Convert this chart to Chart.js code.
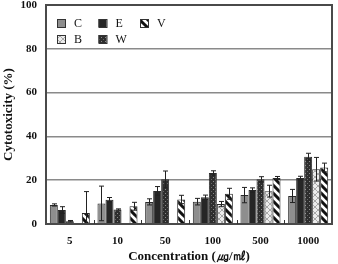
<!DOCTYPE html>
<html>
<head>
<meta charset="utf-8">
<script src="https://cdn.jsdelivr.net/npm/chart.js@4.4.0/dist/chart.umd.min.js"></script>
<style>
  html, body { margin: 0; padding: 0; background: #fff; }
  #wrap { width: 338px; height: 264px; }
</style>
</head>
<body>
<div id="wrap"><canvas id="cyto" width="338" height="264"></canvas></div>
<script>
// concentrations (x categories)
var concLabels = ['5', '10', '50', '100', '500', '1000'];
var yTicks = [0, 20, 40, 60, 80, 100];

// series values (%) and error (+/-)
var seriesNames = ['C', 'E', 'W', 'B', 'V'];
var valC = [8.7, 9.4, 10.1, 10.2, 13.2, 12.8];
var errC = [0.5, 7.9, 1.4, 1.5, 3.5, 3.0];
var valE = [6.4, 11.1, 15.1, 12.2, 15.5, 21.0];
var errE = [1.5, 1.0, 2.0, 1.0, 1.0, 0.8];
var valW = [1.3, 6.6, 20.4, 23.3, 20.4, 30.7];
var errW = [0.3, 0.3, 3.8, 1.0, 1.2, 1.6];
var valB = [0, 0, 0, 9.1, 15.0, 25.0];
var errB = [0, 0, 0, 1.2, 2.7, 5.4];
var valV = [5.0, 8.1, 11.2, 13.8, 21.0, 25.8];
var errV = [9.8, 1.8, 1.9, 2.5, 0.7, 2.0];

// legend placement order (column-major, 2 rows)
var legendOrder = ['C', 'B', 'E', 'W', 'V'];

var serif = "'Liberation Serif', 'DejaVu Serif', serif";

//パターンを作る
function tile(w, h, draw) {
    var c = document.createElement('canvas');
    c.width = w; c.height = h;
    var g = c.getContext('2d');
    draw(g);
    return g.createPattern(c, 'repeat');
}

var fillC = '#8e8e8e';
var fillE = '#262626';
var fillW = tile(4, 4, function (g) {
    g.fillStyle = '#2e2e2e'; g.fillRect(0, 0, 4, 4);
    g.fillStyle = '#8a8a8a'; g.fillRect(1, 1, 1, 1);
    g.fillStyle = '#666'; g.fillRect(3, 3, 1, 1);
});
var fillB = tile(6, 6, function (g) {
    g.fillStyle = '#ececec'; g.fillRect(0, 0, 6, 6);
    g.strokeStyle = '#a8a8a8'; g.lineWidth = 1;
    g.beginPath();
    g.moveTo(0, 0); g.lineTo(6, 6);
    g.moveTo(6, 0); g.lineTo(0, 6);
    g.stroke();
});
var fillV = tile(8, 8, function (g) {
    g.fillStyle = '#fff'; g.fillRect(0, 0, 8, 8);
    g.strokeStyle = '#111'; g.lineWidth = 3;
    g.beginPath();
    for (var k = -8; k <= 8; k += 8) {
        g.moveTo(k - 1, -1); g.lineTo(k + 9, 9);
    }
    g.stroke();
});

function makeSet(label, data, errors, fill) {
    return {
        label: label,
        data: data,
        errors: errors,
        backgroundColor: fill,
        borderColor: '#2a2a2a',
        borderWidth: 1,
        categoryPercentage: 0.84,
        barPercentage: 1.0
    };
}

var datasets = [
    makeSet('C', valC, errC, fillC),
    makeSet('E', valE, errE, fillE),
    makeSet('W', valW, errW, fillW),
    makeSet('B', valB, errB, fillB),
    makeSet('V', valV, errV, fillV)
];

//エラーバー
var errorBars = {
    id: 'errorBars',
    afterDatasetsDraw: function (chart) {
        var ctx = chart.ctx;
        var ys = chart.scales.y;
        ctx.save();
        ctx.strokeStyle = '#222';
        ctx.lineWidth = 1;
        chart.data.datasets.forEach(function (ds, di) {
            var meta = chart.getDatasetMeta(di);
            meta.data.forEach(function (bar, i) {
                var e = ds.errors[i];
                if (!e) return;
                var v = ds.data[i];
                var yt = ys.getPixelForValue(v + e);
                var yb = ys.getPixelForValue(Math.max(0, v - e));
                var x = Math.round(bar.x) + 0.5;
                ctx.beginPath();
                ctx.moveTo(x, yt); ctx.lineTo(x, yb);
                ctx.moveTo(x - 2.5, yt); ctx.lineTo(x + 2.5, yt);
                ctx.moveTo(x - 2.5, yb); ctx.lineTo(x + 2.5, yb);
                ctx.stroke();
            });
        });
        ctx.restore();
    }
};

//枠と内向きの目盛り
var frame = {
    id: 'frame',
    afterDraw: function (chart) {
        var ctx = chart.ctx;
        var a = chart.chartArea;
        var xs = chart.scales.x;
        ctx.save();
        ctx.strokeStyle = '#4a4a4a';
        ctx.lineWidth = 2;
        ctx.strokeRect(a.left, a.top, a.right - a.left, a.bottom - a.top);
        var half = (xs.getPixelForValue(1) - xs.getPixelForValue(0)) / 2;
        ctx.lineWidth = 1;
        ctx.strokeStyle = '#333';
        ctx.beginPath();
        for (var i = 1; i < concLabels.length; i++) {
            var px = Math.round(xs.getPixelForValue(i) - half) + 0.5;
            ctx.moveTo(px, a.bottom); ctx.lineTo(px, a.bottom - 4);
        }
        ctx.stroke();
        ctx.restore();
    }
};

//凡例（グラフ内）
var insideLegend = {
    id: 'insideLegend',
    afterDraw: function (chart) {
        var ctx = chart.ctx;
        var a = chart.chartArea;
        ctx.save();
        ctx.font = '12px ' + serif;
        ctx.textBaseline = 'middle';
        legendOrder.forEach(function (name, k) {
            var col = Math.floor(k / 2), row = k % 2;
            var di = seriesNames.indexOf(name);
            var ds = chart.data.datasets[di];
            var bx = a.left + 11 + col * 41.5;
            var by = a.top + 14 + row * 16;
            ctx.fillStyle = ds.backgroundColor;
            ctx.fillRect(bx, by, 8, 8);
            ctx.strokeStyle = '#333';
            ctx.lineWidth = 1;
            ctx.strokeRect(bx + 0.5, by + 0.5, 8, 8);
            ctx.fillStyle = '#111';
            ctx.fillText(name, bx + 17, by + 5);
        });
        ctx.restore();
    }
};

new Chart(document.getElementById('cyto'), {
    type: 'bar',
    data: { labels: concLabels, datasets: datasets },
    plugins: [errorBars, frame, insideLegend],
    options: {
        responsive: false,
        animation: false,
        layout: { padding: { left: 0, right: 6, top: 5, bottom: 0 } },
        plugins: {
            legend: { display: false },
            tooltip: { enabled: false }
        },
        scales: {
            x: {
                grid: { display: false, drawTicks: false },
                border: { display: false },
                ticks: {
                    color: '#111',
                    padding: 11,
                    font: { family: serif, size: 11, weight: 'bold' }
                },
                title: {
                    display: true,
                    text: 'Concentration (㎍/㎖)',
                    color: '#111',
                    padding: { top: 0, bottom: 0 },
                    font: { family: serif, size: 13, weight: 'bold' }
                },
                afterFit: function (s) {
                    s.height = 40;
                    s.paddingLeft = 0; s.paddingRight = 0;
                }
            },
            y: {
                min: 0,
                max: 100,
                afterBuildTicks: function (s) {
                    s.ticks = yTicks.map(function (v) { return { value: v }; });
                },
                grid: { color: '#8a8a8a', lineWidth: 1.5, drawTicks: false },
                border: { display: false },
                ticks: {
                    color: '#111',
                    padding: 9,
                    font: { family: serif, size: 11, weight: 'bold' }
                },
                title: {
                    display: true,
                    text: 'Cytotoxicity (%)',
                    color: '#111',
                    padding: { top: 1, bottom: 0 },
                    font: { family: serif, size: 13, weight: 'bold' }
                },
                afterFit: function (s) {
                    s.width = 46;
                    s.paddingTop = 0; s.paddingBottom = 0;
                }
            }
        }
    }
});
</script>
</body>
</html>
